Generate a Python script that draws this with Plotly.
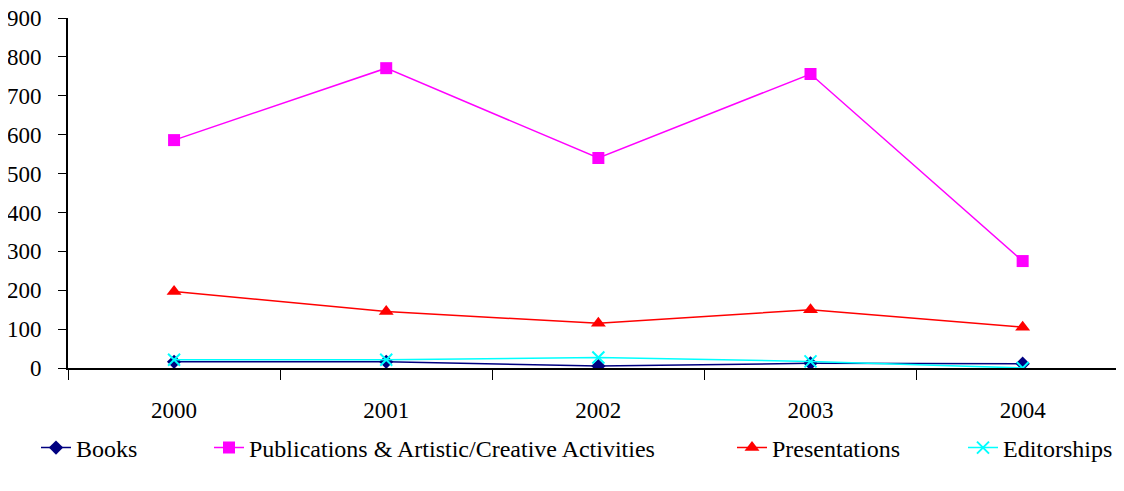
import plotly.graph_objects as go

years = ["2000", "2001", "2002", "2003", "2004"]
books = [16, 16, 5, 12, 11]
publications = [586, 771, 540, 756, 275]
presentations = [197, 145, 115, 150, 105]
editorships = [21, 21, 27, 17, 0]

W, H = 1108, 475  # page body adds 8px margin around the figure

series = [
    ("Books", books, "#000080", "diamond", 11),
    ("Publications & Artistic/Creative Activities", publications, "#FF00FF", "square", 12),
    ("Presentations", presentations, "#FF0000", "triangle-up", 13),
    ("Editorships", editorships, "#00FFFF", "x-thin", 12),
]
legend_x = [28, 201, 724, 955]

fig = go.Figure()
legends = {}
for i, (name, vals, color, sym, size) in enumerate(series):
    marker = dict(symbol=sym, size=size, color=color)
    if sym == "x-thin":
        marker["line"] = dict(color=color, width=2)
    lg = "legend" if i == 0 else f"legend{i + 1}"
    fig.add_trace(go.Scatter(
        x=years, y=vals, name=name, mode="lines+markers",
        line=dict(color=color, width=1.5), marker=marker, legend=lg,
    ))
    legends[lg] = dict(
        xref="container", yref="container", orientation="h",
        x=legend_x[i] / W, y=1 - 440 / H, xanchor="left", yanchor="middle",
        font=dict(size=24), bgcolor="rgba(0,0,0,0)",
    )

fig.update_layout(
    width=W, height=H,
    margin=dict(l=60, r=0, t=10, b=115),
    plot_bgcolor="white", paper_bgcolor="white",
    font=dict(family="Liberation Serif, Times New Roman, serif", size=23, color="black"),
    showlegend=True,
    xaxis=dict(
        type="category", range=[-0.5, 4.44], showgrid=False, automargin=False,
        showline=True, linecolor="black", linewidth=2,
        ticks="outside", tickson="boundaries", ticklen=10, tickcolor="black",
        ticklabelstandoff=20,
    ),
    yaxis=dict(
        range=[0, 900], dtick=100, showgrid=False, zeroline=False, automargin=False,
        showline=True, linecolor="black", linewidth=2, ticklabeloverflow="allow",
        ticks="outside", ticklen=8, tickcolor="black", ticklabelstandoff=12,
    ),
    **legends,
)

fig.write_html("out.html")
